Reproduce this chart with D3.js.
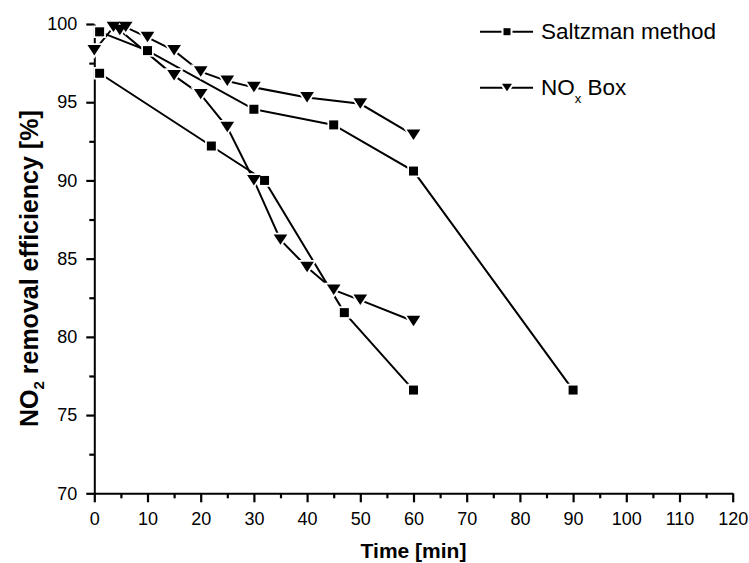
<!DOCTYPE html>
<html>
<head>
<meta charset="utf-8">
<script src="https://cdn.jsdelivr.net/npm/d3@7"></script>
<style>
  html, body { margin: 0; padding: 0; background: #fff; }
  svg { display: block; font-family: "Liberation Sans", Arial, sans-serif; }
</style>
</head>
<body>
<svg id="chart" width="749" height="563"></svg>
<script>
// Time axis ticks (min) and efficiency ticks (%)
const xMajorTicks = [0, 10, 20, 30, 40, 50, 60, 70, 80, 90, 100, 110, 120];
const xMinorTicks = [5, 15, 25, 35, 45, 55, 65, 75, 85, 95, 105, 115];
const yMajorTicks = [70, 75, 80, 85, 90, 95, 100];
const yMinorTicks = [72.5, 77.5, 82.5, 87.5, 92.5, 97.5];

// Saltzman method, run 1 and run 2
const saltzman1Time = [1, 10, 30, 45, 60, 90];
const saltzman1Eff  = [99.5, 98.3, 94.55, 93.55, 90.6, 76.6];
const saltzman2Time = [1, 22, 32, 47, 60];
const saltzman2Eff  = [96.85, 92.2, 90.0, 81.55, 76.6];

// NOx Box, run 1 and run 2
const noxBox1Time = [0, 3.6, 5.9, 10, 15, 20, 25, 30, 40, 50, 60];
const noxBox1Eff  = [98.3, 99.8, 99.8, 99.15, 98.3, 96.95, 96.35, 95.95, 95.3, 94.9, 92.9];
const noxBox2Time = [4.8, 15, 20, 25, 30, 35, 40, 45, 50, 60];
const noxBox2Eff  = [99.6, 96.7, 95.5, 93.4, 90.0, 86.2, 84.45, 83.0, 82.35, 81.0];

const svg = d3.select("#chart");
const x = d3.scaleLinear().domain([0, 120]).range([94.3, 732.7]);
const y = d3.scaleLinear().domain([70, 100]).range([493.3, 24]);

const zip = (ts, vs) => ts.map((t, i) => ({ t, v: vs[i] }));
const series = [
  { pts: zip(saltzman1Time, saltzman1Eff), sym: "square" },
  { pts: zip(saltzman2Time, saltzman2Eff), sym: "square" },
  { pts: zip(noxBox1Time, noxBox1Eff), sym: "tri" },
  { pts: zip(noxBox2Time, noxBox2Eff), sym: "tri" }
];

// Symbol paths centred on (0,0)
function symbolPath(sym, s) {
  if (sym === "square") {
    const h = s / 2;
    return `M${-h},${-h}H${h}V${h}H${-h}Z`;
  }
  const w = s * 0.62, top = -s * 0.5, bot = s * 0.45;
  return `M${-w},${top}H${w}L0,${bot}Z`;
}

// Axes
const gx = svg.append("g").attr("transform", `translate(0,${y(70)})`);
gx.call(d3.axisBottom(x).tickValues(xMajorTicks).tickSize(9).tickSizeOuter(0).tickPadding(10).tickFormat(d3.format("d")));
const gxm = svg.append("g").attr("transform", `translate(0,${y(70)})`);
gxm.call(d3.axisBottom(x).tickValues(xMinorTicks).tickSize(5).tickSizeOuter(0).tickFormat(""));
gxm.select(".domain").remove();

const gy = svg.append("g").attr("transform", `translate(${x(0)},0)`);
gy.call(d3.axisLeft(y).tickValues(yMajorTicks).tickSize(8).tickSizeOuter(0).tickPadding(9).tickFormat(d3.format("d")));
const gym = svg.append("g").attr("transform", `translate(${x(0)},0)`);
gym.call(d3.axisLeft(y).tickValues(yMinorTicks).tickSize(5).tickSizeOuter(0).tickFormat(""));
gym.select(".domain").remove();

svg.selectAll(".domain").attr("stroke", "#000").attr("stroke-width", 2);
svg.selectAll(".tick line").attr("stroke", "#000").attr("stroke-width", 2.2);
svg.selectAll(".tick text").attr("font-size", 18).attr("fill", "#000")
  .attr("font-family", "'Liberation Sans', Arial, sans-serif");

// Axis titles
svg.append("text")
  .attr("x", (x(0) + x(120)) / 2).attr("y", 558)
  .attr("text-anchor", "middle").attr("font-weight", "bold").attr("font-size", 21)
  .text("Time [min]");

const yt = svg.append("text")
  .attr("transform", `translate(38,${(y(70) + y(100)) / 2 + 10}) rotate(-90)`)
  .attr("text-anchor", "middle").attr("font-weight", "bold").attr("font-size", 25);
yt.append("tspan").text("NO");
yt.append("tspan").attr("font-size", 15).attr("dy", 6).text("2");
yt.append("tspan").attr("dy", -6).text(" removal efficiency [%]");

// Lines, then a white gap around each symbol, then the symbols themselves
const line = d3.line().x(d => x(d.t)).y(d => y(d.v));
const plot = svg.append("g");
series.forEach(s => {
  plot.append("path").datum(s.pts).attr("d", line)
    .attr("fill", "none").attr("stroke", "#000").attr("stroke-width", 2);
});
const gapLayer = plot.append("g");
const symLayer = plot.append("g");
series.forEach(s => {
  const size = s.sym === "square" ? 9 : 11;
  gapLayer.selectAll(null).data(s.pts).enter().append("path")
    .attr("transform", d => `translate(${x(d.t)},${y(d.v)})`)
    .attr("d", symbolPath(s.sym, size))
    .attr("fill", "#fff").attr("stroke", "#fff").attr("stroke-width", 3.5);
  symLayer.selectAll(null).data(s.pts).enter().append("path")
    .attr("transform", d => `translate(${x(d.t)},${y(d.v)})`)
    .attr("d", symbolPath(s.sym, size))
    .attr("fill", "#000");
});

// Legend
const legendItems = [
  { sym: "square", yy: 31.7 },
  { sym: "tri", yy: 87.7 }
];
legendItems.forEach(it => {
  svg.append("line").attr("x1", 480).attr("x2", 533).attr("y1", it.yy).attr("y2", it.yy)
    .attr("stroke", "#000").attr("stroke-width", 2);
  svg.append("path").attr("transform", `translate(507,${it.yy})`)
    .attr("d", symbolPath(it.sym, it.sym === "square" ? 7 : 8))
    .attr("fill", "#000").attr("stroke", "#fff").attr("stroke-width", 4)
    .attr("paint-order", "stroke");
});
svg.append("text").attr("x", 541).attr("y", 39).attr("font-size", 22.5).text("Saltzman method");
const nt = svg.append("text").attr("x", 541).attr("y", 95).attr("font-size", 22.5);
nt.append("tspan").text("NO");
nt.append("tspan").attr("font-size", 13).attr("dy", 8).text("x");
nt.append("tspan").attr("dy", -8).text(" Box");
</script>
</body>
</html>
